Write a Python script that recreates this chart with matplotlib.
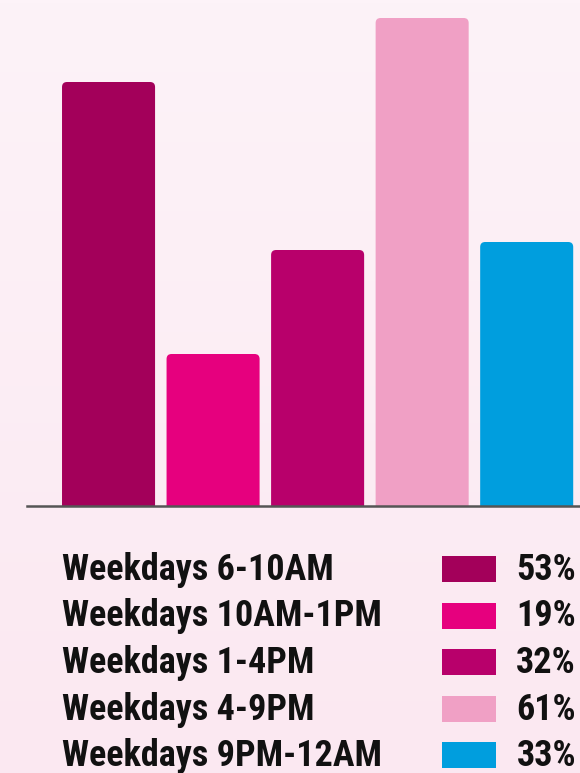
import matplotlib
matplotlib.use('Agg')
import matplotlib.pyplot as plt
from matplotlib.patches import FancyBboxPatch, Rectangle
from matplotlib.colors import LinearSegmentedColormap
from matplotlib import font_manager
import numpy as np

categories = ["Weekdays 6-10AM", "Weekdays 10AM-1PM", "Weekdays 1-4PM",
              "Weekdays 4-9PM", "Weekdays 9PM-12AM"]
values = [53, 19, 32, 61, 33]
colors = ["#a3005a", "#e6007e", "#b8006b", "#f0a0c5", "#009ede"]

names = {f.name for f in font_manager.fontManager.ttflist}
fam = 'Liberation Sans'
for cand in ['Roboto Condensed', 'Liberation Sans Narrow', 'Archivo Narrow',
             'PT Sans Narrow', 'Arimo', 'Liberation Sans']:
    if cand in names:
        fam = cand
        break
wt = 600

W, H = 580, 773
fig = plt.figure(figsize=(W / 100, H / 100), dpi=100)

bg = fig.add_axes([0, 0, 1, 1], zorder=-10)
grad = np.linspace(0, 1, 256).reshape(-1, 1)
cmap = LinearSegmentedColormap.from_list('bg', ['#fdf3f8', '#fbe8f1'])
bg.imshow(grad, aspect='auto', cmap=cmap, extent=[0, 1, 0, 1], origin='upper')
bg.axis('off')

left_px, base_px = 27, 506
ax = fig.add_axes([left_px / W, (H - base_px) / H, 1 - left_px / W, base_px / H])
ax.patch.set_alpha(0)
x = np.arange(len(values))
xlim = (-0.78, 4.51)
ylim = (0, 63.25)
ax.set_xlim(*xlim)
ax.set_ylim(*ylim)
bars = ax.bar(x, values, width=0.89, color=colors)

px_x = (W - left_px) / (xlim[1] - xlim[0])
px_y = base_px / (ylim[1] - ylim[0])
r = 5 / px_x
for b in bars:
    x0, w, h, c = b.get_x(), b.get_width(), b.get_height(), b.get_facecolor()
    b.remove()
    p = FancyBboxPatch((x0, -2), w, h + 2,
                       boxstyle=f"round,pad=0,rounding_size={r}",
                       mutation_aspect=px_x / px_y, facecolor=c, edgecolor='none')
    ax.add_patch(p)

for s in ['top', 'left', 'right']:
    ax.spines[s].set_visible(False)
ax.spines['bottom'].set_color('#555555')
ax.spines['bottom'].set_linewidth(1.8)
ax.set_xticks([])
ax.set_yticks([])

# choose font size so the longest label spans about 321 px
renderer = fig.canvas.get_renderer()
probe = fig.text(0, 0, "Weekdays 10AM-1PM", fontsize=20, family=fam, weight=wt)
wpx = probe.get_window_extent(renderer).width
probe.remove()
fsz = min(20 * 321 / wpx, 26)

row0, step = 580, 46.5
for i, (lab, v, c) in enumerate(zip(categories, values, colors)):
    yb = row0 + i * step
    fig.text(62 / W, 1 - yb / H, lab, fontsize=fsz, family=fam, weight=wt,
             color='#111111', ha='left', va='baseline')
    fig.text(576 / W, 1 - yb / H, f"{v}%", fontsize=fsz, family=fam, weight=wt,
             color='#111111', ha='right', va='baseline')
    top = yb - 24
    fig.patches.append(Rectangle((442 / W, 1 - (top + 26) / H), 54 / W, 26 / H,
                                 transform=fig.transFigure, facecolor=c,
                                 edgecolor='none'))

fig.savefig('out.png', dpi=100)
